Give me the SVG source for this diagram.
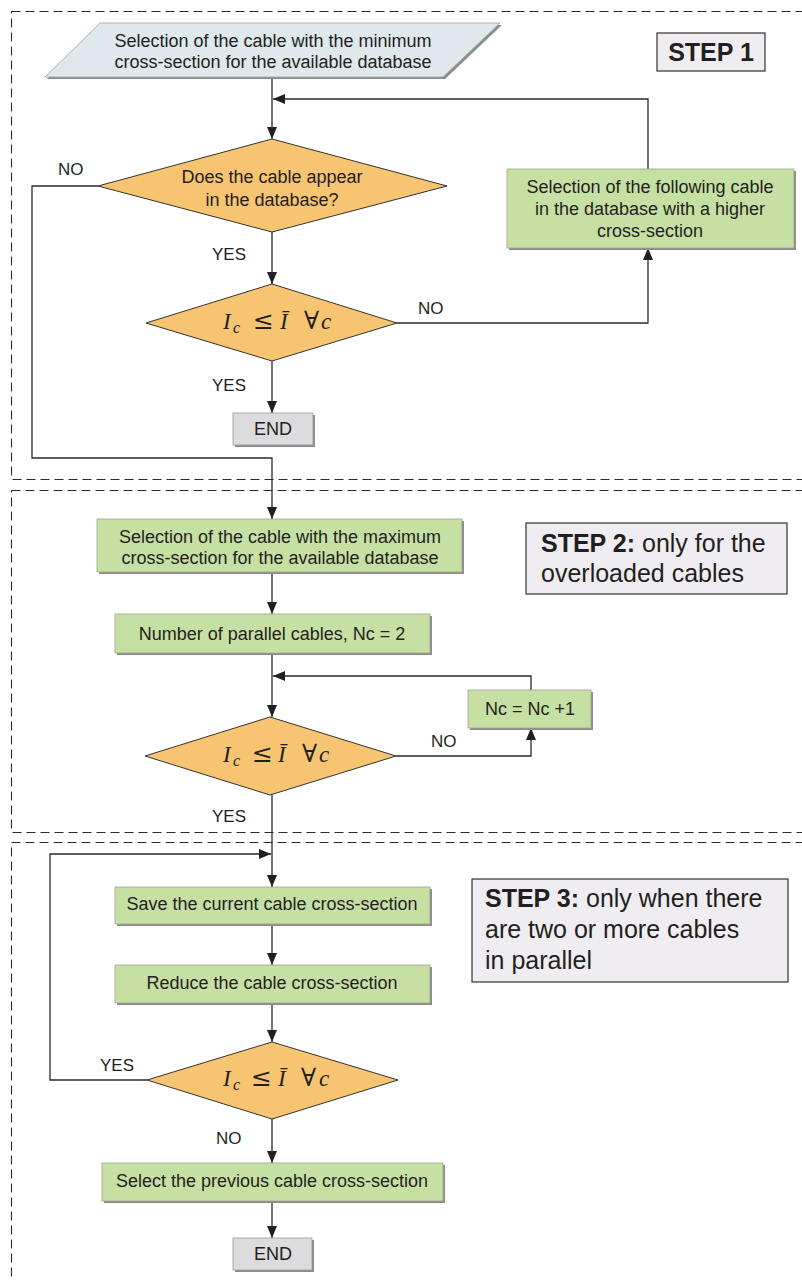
<svg xmlns="http://www.w3.org/2000/svg" width="802" height="1280" viewBox="0 0 802 1280">
<defs>
<marker id="ah" viewBox="0 0 12 10" refX="12" refY="5" markerWidth="12" markerHeight="10" markerUnits="userSpaceOnUse" orient="auto">
<path d="M0,0 L12,5 L0,10 z" fill="#231f20"/>
</marker>
<style>
.frame{fill:none;stroke:#2a2a2a;stroke-width:1.1;stroke-dasharray:9 5}
.sh{fill:#8c8c8c}
.green{fill:#c6e0a4;stroke:#9aa78c;stroke-width:0.8}
.dia{fill:#f7c471;stroke:#333;stroke-width:1}
.para{fill:#dfe8ec;stroke:#9aa4a8;stroke-width:0.8}
.endb{fill:#dcdcdf;stroke:#9a9a9a;stroke-width:0.8}
.step{fill:#efedf1;stroke:#333;stroke-width:1.2}
.t{font-family:"Liberation Sans",Arial,sans-serif;font-size:18px;fill:#231f20;text-anchor:middle}
.lbl{font-family:"Liberation Sans",Arial,sans-serif;font-size:17px;fill:#231f20}
.st{font-family:"Liberation Sans",Arial,sans-serif;font-size:25px;fill:#231f20}
.m{font-family:"Liberation Serif","Times New Roman",serif;font-size:23px;fill:#231f20}
.sym{font-family:"DejaVu Serif",serif;font-size:25px}
.ca{fill:none;stroke:#2a2a2a;stroke-width:1.3;marker-end:url(#ah)}
</style>
</defs>

<g id="frames">
<rect class="frame" x="11.5" y="11.5" width="800" height="468"/>
<rect class="frame" x="11.5" y="490.5" width="800" height="342"/>
<rect class="frame" x="11.5" y="842.5" width="800" height="460"/>
</g>

<g id="connectors">
<path class="ca" d="M272,77 V139"/>
<path class="ca" d="M648,169 V99 H273"/>
<path class="ca" d="M272,232 V284"/>
<path class="ca" d="M98,186 H32 V458 H272 V519"/>
<path class="ca" d="M397,323 H648 V248"/>
<path class="ca" d="M272,361 V413"/>
<path class="ca" d="M272,572 V614"/>
<path class="ca" d="M272,652 V717"/>
<path class="ca" d="M531,690 V676 H273"/>
<path class="ca" d="M396,756 H531 V728"/>
<path class="ca" d="M272,795 V887"/>
<path class="ca" d="M272,924 V965"/>
<path class="ca" d="M272,1003 V1042"/>
<path class="ca" d="M147,1080 H50 V854 H271"/>
<path class="ca" d="M272,1119 V1163"/>
<path class="ca" d="M272,1201 V1238"/>
</g>

<g id="labels">
<text class="lbl" x="58" y="175">NO</text>
<text class="lbl" x="212" y="260">YES</text>
<text class="lbl" x="418" y="314">NO</text>
<text class="lbl" x="212" y="391">YES</text>
<text class="lbl" x="431" y="747">NO</text>
<text class="lbl" x="212" y="822">YES</text>
<text class="lbl" x="100" y="1071">YES</text>
<text class="lbl" x="216" y="1144">NO</text>
</g>

<g id="n_start">
<polygon class="sh" points="102,25 502,25 445,79 47,79"/>
<polygon class="para" points="100,23 500,23 443,77 45,77"/>
<text class="t" x="273" y="47">Selection of the cable with the minimum</text>
<text class="t" x="273" y="68">cross-section for the available database</text>
</g>

<g id="n_step1">
<rect class="step" x="657" y="33" width="108" height="38"/>
<text class="st" x="711" y="61" text-anchor="middle" font-weight="bold">STEP 1</text>
</g>

<g id="n_dec1">
<polygon class="dia" points="272,139 447,186 272,232 98,186"/>
<text class="t" x="272" y="183">Does the cable appear</text>
<text class="t" x="272" y="206">in the database?</text>
</g>

<g id="n_next">
<rect class="sh" x="509" y="171" width="287" height="79"/>
<rect class="green" x="507" y="169" width="287" height="79"/>
<text class="t" x="650" y="193">Selection of the following cable</text>
<text class="t" x="650" y="215">in the database with a higher</text>
<text class="t" x="650" y="237">cross-section</text>
</g>

<g id="n_dec2">
<polygon class="dia" points="272,284 397,323 272,361 146,323"/>
<text class="m" y="329"><tspan x="223" font-style="italic">I</tspan><tspan x="233" dy="4" font-size="16" font-style="italic">c</tspan><tspan class="sym" x="253" dy="-4">≤</tspan><tspan x="280" font-style="italic">Ī</tspan><tspan class="sym" x="304">∀</tspan><tspan x="321" font-style="italic">c</tspan></text>
</g>

<g id="n_end1">
<rect class="sh" x="235" y="415" width="80" height="32"/>
<rect class="endb" x="233" y="413" width="80" height="32"/>
<text class="t" x="273" y="435">END</text>
</g>

<g id="n_max">
<rect class="sh" x="99" y="521" width="365" height="53"/>
<rect class="green" x="97" y="519" width="365" height="53"/>
<text class="t" x="280" y="543">Selection of the cable with the maximum</text>
<text class="t" x="280" y="564">cross-section for the available database</text>
</g>

<g id="n_step2">
<rect class="step" x="526" y="523" width="261" height="71"/>
<text class="st" x="541" y="552"><tspan font-weight="bold">STEP 2:</tspan> only for the</text>
<text class="st" x="541" y="582">overloaded cables</text>
</g>

<g id="n_nc2">
<rect class="sh" x="117" y="616" width="315" height="39"/>
<rect class="green" x="115" y="614" width="315" height="39"/>
<text class="t" x="272" y="640">Number of parallel cables, Nc = 2</text>
</g>

<g id="n_inc">
<rect class="sh" x="470" y="692" width="123" height="38"/>
<rect class="green" x="468" y="690" width="123" height="38"/>
<text class="t" x="530" y="715">Nc = Nc +1</text>
</g>

<g id="n_dec3">
<polygon class="dia" points="270,717 396,756 270,795 145,756"/>
<text class="m" y="762"><tspan x="223" font-style="italic">I</tspan><tspan x="233" dy="4" font-size="16" font-style="italic">c</tspan><tspan class="sym" x="252" dy="-4">≤</tspan><tspan x="278" font-style="italic">Ī</tspan><tspan class="sym" x="302">∀</tspan><tspan x="319" font-style="italic">c</tspan></text>
</g>

<g id="n_step3">
<rect class="step" x="472" y="879" width="316" height="103"/>
<text class="st" x="485" y="907"><tspan font-weight="bold">STEP 3:</tspan> only when there</text>
<text class="st" x="485" y="938">are two or more cables</text>
<text class="st" x="485" y="969">in parallel</text>
</g>

<g id="n_save">
<rect class="sh" x="117" y="889" width="315" height="37"/>
<rect class="green" x="115" y="887" width="315" height="37"/>
<text class="t" x="272" y="910">Save the current cable cross-section</text>
</g>

<g id="n_reduce">
<rect class="sh" x="117" y="967" width="315" height="38"/>
<rect class="green" x="115" y="965" width="315" height="38"/>
<text class="t" x="272" y="989">Reduce the cable cross-section</text>
</g>

<g id="n_dec4">
<polygon class="dia" points="272,1042 398,1080 272,1119 147,1080"/>
<text class="m" y="1086"><tspan x="223" font-style="italic">I</tspan><tspan x="233" dy="4" font-size="16" font-style="italic">c</tspan><tspan class="sym" x="251" dy="-4">≤</tspan><tspan x="278" font-style="italic">Ī</tspan><tspan class="sym" x="301">∀</tspan><tspan x="319" font-style="italic">c</tspan></text>
</g>

<g id="n_prev">
<rect class="sh" x="104" y="1165" width="341" height="38"/>
<rect class="green" x="102" y="1163" width="341" height="38"/>
<text class="t" x="272" y="1187">Select the previous cable cross-section</text>
</g>

<g id="n_end2">
<rect class="sh" x="235" y="1240" width="79" height="32"/>
<rect class="endb" x="233" y="1238" width="79" height="32"/>
<text class="t" x="273" y="1260">END</text>
</g>
</svg>
